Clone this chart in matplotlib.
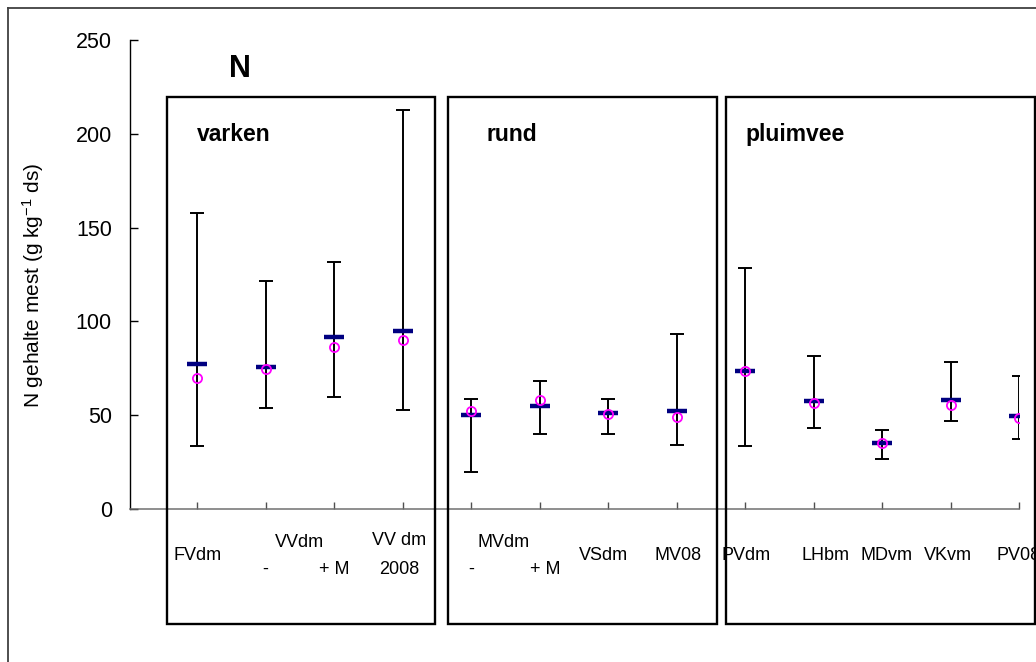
import matplotlib
matplotlib.use("Agg")
import matplotlib.pyplot as plt
from matplotlib.patches import Rectangle
from matplotlib.lines import Line2D
import matplotlib.transforms as mtransforms
import numpy as np

# ---------------- data ----------------
categories = ["FVdm", "VVdm -", "VVdm + M", "VV dm 2008",
              "MVdm -", "MVdm + M", "VSdm", "MV08",
              "PVdm", "LHbm", "MDvm", "VKvm", "PV08"]
mean_values = [77.5, 75.6, 91.9, 94.8,
               50.0, 55.0, 51.0, 52.0,
               73.6, 57.5, 35.2, 58.3, 49.6]
median_values = [69.7, 74.5, 86.3, 90.0,
                 52.3, 58.0, 50.5, 49.0,
                 73.6, 56.4, 35.0, 55.3, 48.7]
max_values = [157.8, 121.3, 131.8, 212.5,
              58.5, 68.0, 58.5, 93.4,
              128.7, 81.8, 42.3, 78.1, 71.1]
min_values = [33.6, 53.7, 59.6, 52.8,
              19.8, 40.0, 40.0, 34.0,
              33.8, 43.4, 26.8, 47.1, 37.5]
groups = ["varken", "rund", "pluimvee"]
yticks = [0, 50, 100, 150, 200, 250]

# ---------------- layout helpers ----------------
W, H, DPI = 1036, 662, 100
plt.rcParams["font.family"] = ["Liberation Sans", "DejaVu Sans"]
plt.rcParams["axes.unicode_minus"] = False
plt.rcParams["mathtext.default"] = "regular"
fig = plt.figure(figsize=(W / DPI, H / DPI), dpi=DPI)
fig.patch.set_facecolor("white")


def fx(px):
    return px / W


def fy(py):
    return 1 - py / H


ax_left, ax_right, ax_top, ax_bottom = 130, 1019, 40, 509
ax = fig.add_axes([fx(ax_left), fy(ax_bottom), fx(ax_right - ax_left),
                   (ax_bottom - ax_top) / H])
ax.set_facecolor("none")

x = np.arange(len(categories))
mean_arr = np.array(mean_values)
lo = mean_arr - np.array(min_values)
hi = np.array(max_values) - mean_arr

ax.errorbar(x, mean_arr, yerr=[lo, hi], fmt="none", ecolor="black",
            elinewidth=1.4, capsize=5, capthick=1.4, zorder=2)
ax.plot(x, mean_values, linestyle="none", marker="_", markersize=15,
        markeredgewidth=3.2, color="#000080", zorder=3)
ax.plot(x, median_values, linestyle="none", marker="o", markersize=6.6,
        markerfacecolor="none", markeredgecolor="#FF00FF",
        markeredgewidth=1.3, zorder=4)

ax.set_xlim(-0.98, 12)
ax.set_ylim(0, 250)
ax.set_yticks(yticks)
ax.set_yticklabels([str(v) for v in yticks], fontsize=15.5)
ax.set_xticks(x)
ax.set_xticklabels([])
ax.tick_params(axis="y", direction="in", length=6, width=1, pad=13,
               colors="black")
ax.tick_params(axis="x", direction="in", length=5, width=1,
               color="#505050")
for s in ["top", "right"]:
    ax.spines[s].set_visible(False)
ax.spines["left"].set_linewidth(1)
ax.spines["left"].set_color("black")
ax.spines["bottom"].set_linewidth(1.1)
ax.spines["bottom"].set_color("#707070")

ax.set_ylabel("N gehalte mest (g kg$^{-1}$ ds)", fontsize=15)
ax.yaxis.set_label_coords((46 - ax_left) / (ax_right - ax_left), 0.478)

# x labels (multi-level) : (text, category position, baseline px)
xlabels = [
    ("FVdm", 0, 560), ("VVdm", 1.5, 547), ("-", 1, 574), ("+ M", 2, 574),
    ("VV dm", 2.95, 545), ("2008", 2.95, 574),
    ("MVdm", 4.48, 547), ("-", 4, 574), ("+ M", 5.08, 574),
    ("VSdm", 5.93, 560), ("MV08", 7.02, 560),
    ("PVdm", 8.02, 560), ("LHbm", 9.18, 560), ("MDvm", 10.06, 560),
    ("VKvm", 10.96, 560), ("PV08", 12.0, 560),
]
trans = mtransforms.blended_transform_factory(ax.transData, fig.transFigure)
for txt, xp, by in xlabels:
    ax.text(xp, fy(by), txt, transform=trans, ha="center", va="baseline",
            fontsize=13, clip_on=False)

# group boxes
boxes = [(166.5, 435), (447.5, 716.5), (725.5, 1035)]
box_top, box_bottom = 96.5, 624
for (l, r) in boxes:
    fig.patches.append(Rectangle((fx(l), fy(box_bottom)), fx(r - l),
                                 (box_bottom - box_top) / H,
                                 transform=fig.transFigure, fill=False,
                                 edgecolor="black", linewidth=1.7, zorder=5))

# group labels
label_pos = [(197, 141), (486, 141), (745, 141)]
for g, (lx, by) in zip(groups, label_pos):
    fig.text(fx(lx), fy(by), g, fontsize=16.5, fontweight="bold",
             ha="left", va="baseline")

# big N title
fig.text(fx(240), fy(77), "N", fontsize=22, fontweight="bold",
         ha="center", va="baseline")

# outer frame (left and top edges visible)
fig.lines.append(Line2D([fx(7.5), fx(7.5)], [fy(7.5), 0],
                        transform=fig.transFigure, color="#404040", lw=1.3))
fig.lines.append(Line2D([fx(7.5), 1], [fy(7.5), fy(7.5)],
                        transform=fig.transFigure, color="#404040", lw=1.3))

fig.savefig("out.png", dpi=DPI)
